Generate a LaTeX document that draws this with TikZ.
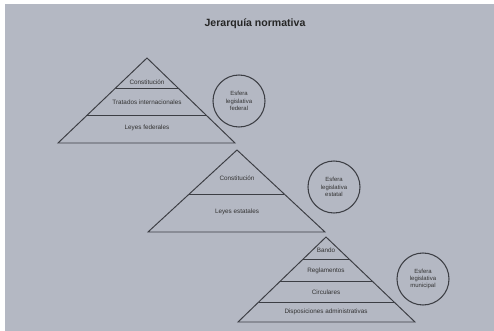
\documentclass[tikz,border=0pt]{standalone}
\usepackage{fontspec}
\setmainfont{Liberation Sans}
\usetikzlibrary{calc}

\definecolor{slide}{RGB}{180,184,195}
\definecolor{ink}{RGB}{60,62,68}

\tikzset{
  level/.style={font=\fontsize{3.6}{4}\selectfont, text=black!80, inner sep=0pt},
  sphere/.style={circle, draw=ink, line width=0.6pt, minimum size=52*0.02cm, inner sep=0pt,
    align=center, font=\fontsize{3.4}{4.2}\selectfont, text=black!80},
}

\begin{document}
\begin{tikzpicture}[x=0.02cm, y=-0.02cm, line width=0.55pt]
    \useasboundingbox (0,0) rectangle (494,331);
    % slide background
    \fill[slide] (5,4) rectangle (494,331);

    % Title
    \node[font=\bfseries\fontsize{6}{7}\selectfont, text=black!85] (title) at (255,24) {Jerarquía normativa};

    % Federal pyramid
    \coordinate (fA) at (147,58);
    \coordinate (fL) at (58,143);
    \coordinate (fR) at (235,143);
    \draw[ink] (fA) -- (fL) -- (fR) -- cycle;
    \draw[ink] ($(fA)!0.353!(fL)$) -- ($(fA)!0.353!(fR)$);
    \draw[ink] ($(fA)!0.682!(fL)$) -- ($(fA)!0.682!(fR)$);
    \node[level] (fConst) at (147,82) {Constitución};
    \node[level] (fTrat) at (147,102) {Tratados internacionales};
    \node[level] (fLeyes) at (147,128) {Leyes federales};
    \node[sphere] (fEsfera) at (239,101) {Esfera\\legislativa\\federal};

    % State pyramid
    \coordinate (eA) at (237,150);
    \coordinate (eL) at (148,232);
    \coordinate (eR) at (325,232);
    \draw[ink] (eA) -- (eL) -- (eR) -- cycle;
    \draw[ink] ($(eA)!0.537!(eL)$) -- ($(eA)!0.537!(eR)$);
    \node[level] (eConst) at (237,178) {Constitución};
    \node[level] (eLeyes) at (237,212) {Leyes estatales};
    \node[sphere] (eEsfera) at (334,187) {Esfera\\legislativa\\estatal};

    % Municipal pyramid
    \coordinate (mA) at (326,237);
    \coordinate (mL) at (238,322);
    \coordinate (mR) at (415,322);
    \draw[ink] (mA) -- (mL) -- (mR) -- cycle;
    \draw[ink] ($(mA)!0.259!(mL)$) -- ($(mA)!0.259!(mR)$);
    \draw[ink] ($(mA)!0.518!(mL)$) -- ($(mA)!0.518!(mR)$);
    \draw[ink] ($(mA)!0.765!(mL)$) -- ($(mA)!0.765!(mR)$);
    \node[level] (mBando) at (326,250) {Bando};
    \node[level] (mRegl) at (326,271) {Reglamentos};
    \node[level] (mCirc) at (326,292) {Circulares};
    \node[level] (mDisp) at (326,312) {Disposiciones administrativas};
    \node[sphere] (mEsfera) at (423,279) {Esfera\\legislativa\\municipal};

\end{tikzpicture}
\end{document}
